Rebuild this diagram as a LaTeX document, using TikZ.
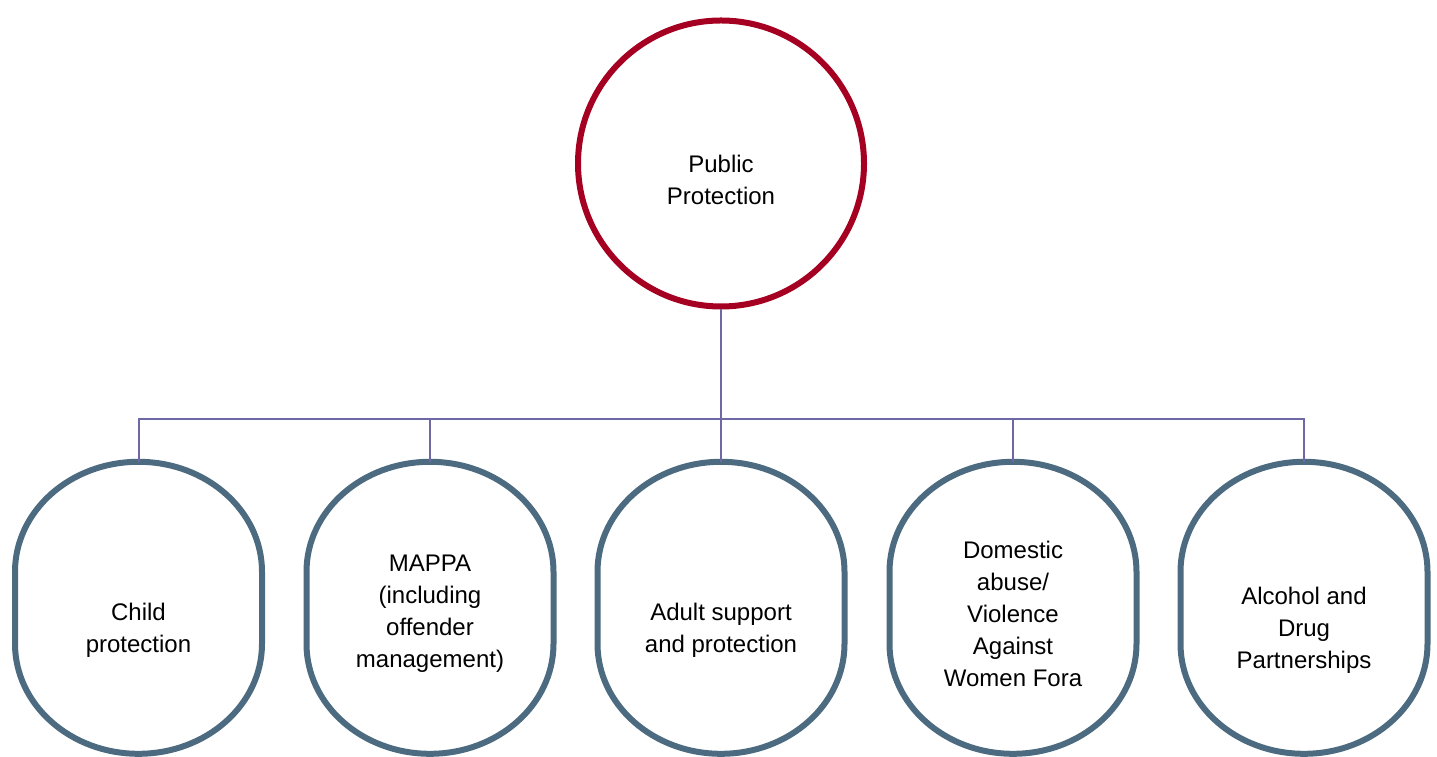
\documentclass[tikz,border=0pt]{standalone}
\usepackage{fontspec}
\setmainfont{Liberation Sans}
\definecolor{topred}{RGB}{165,0,33}
\definecolor{boxblue}{RGB}{76,107,128}
\definecolor{linkc}{RGB}{110,104,165}
\begin{document}
\begin{tikzpicture}[x=1pt,y=1pt,
  topcircle/.style={circle,draw=topred,line width=6pt,minimum size=286pt,inner sep=0pt},
  slot/.style={rectangle,minimum width=247pt,minimum height=292pt,inner sep=0pt},
  stadium/.style={draw=boxblue,line width=6pt},
  lbl/.style={align=center,inner sep=0pt,font=\fontsize{24}{32}\selectfont},
  link/.style={draw=linkc,line width=2pt}]
\useasboundingbox (0,0) rectangle (1437,757);
% top circle
\node[topcircle] (top) at (721,593.5) {};
\node[lbl] (toplbl) at (721,577) {Public\\Protection};
% bottom slots
\node[slot] (c1) at (138.5,149) {};
\node[slot] (c2) at (430,149) {};
\node[slot] (c3) at (721,149) {};
\node[slot] (c4) at (1013,149) {};
\node[slot] (c5) at (1304,149) {};
\foreach \n in {c1,c2,c3,c4,c5}{
  \draw[stadium] (\n.north) arc[start angle=90,end angle=180,x radius=123.5,y radius=110]
    -- ++(0,-72) arc[start angle=180,end angle=360,x radius=123.5,y radius=110]
    -- ++(0,72) arc[start angle=0,end angle=90,x radius=123.5,y radius=110] -- cycle;
}
\node[lbl] (t1) at (138.5,127) {Child\\protection};
\node[lbl] (t2) at (430,143) {MAPPA\\(including\\offender\\management)};
\node[lbl] (t3) at (721,127) {Adult support\\and protection};
\node[lbl] (t4) at (1013,143) {Domestic\\abuse/\\Violence\\Against\\Women Fora};
\node[lbl] (t5) at (1304,127) {Alcohol and\\Drug\\Partnerships};
% connectors
\coordinate (bus) at (721,338);
\draw[link] (top.south) -- (bus);
\foreach \n in {c1,c2,c3,c4,c5}{
  \draw[link] (bus) -| (\n.north);
}
\end{tikzpicture}
\end{document}
